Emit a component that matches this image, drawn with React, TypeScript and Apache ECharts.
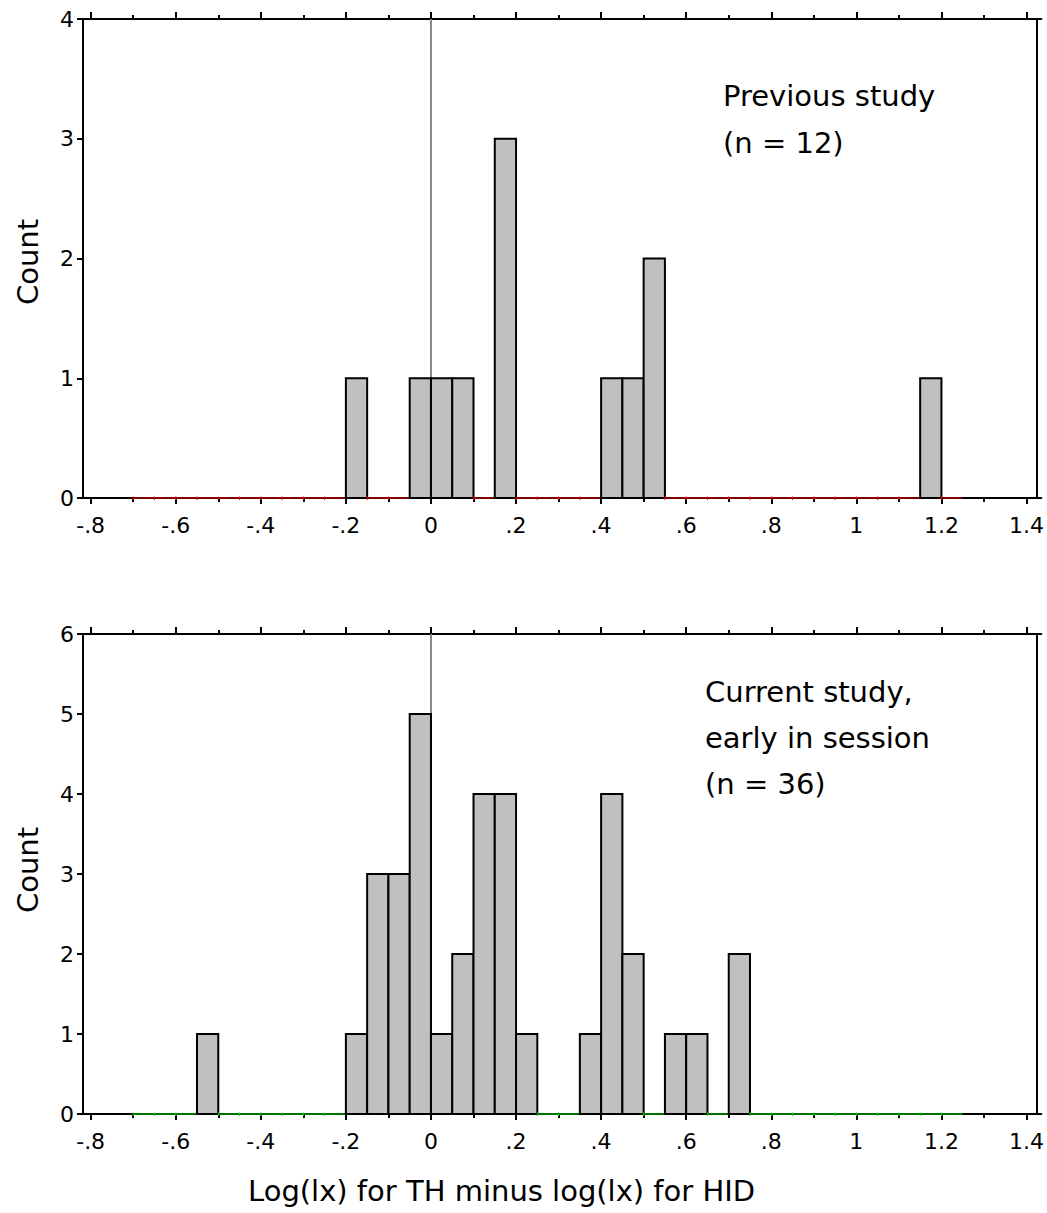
import React, { useEffect, useRef } from "react";
import * as echarts from "echarts";

// Histogram bin left edges (bin width 0.05)
const binStarts = [
  -0.7, -0.65, -0.6, -0.55, -0.5, -0.45, -0.4, -0.35, -0.3, -0.25,
  -0.2, -0.15, -0.1, -0.05, 0.0, 0.05, 0.1, 0.15, 0.2, 0.25,
  0.3, 0.35, 0.4, 0.45, 0.5, 0.55, 0.6, 0.65, 0.7, 0.75,
  0.8, 0.85, 0.9, 0.95, 1.0, 1.05, 1.1, 1.15, 1.2,
];
const binWidth = 0.05;

const previousCounts = [
  0, 0, 0, 0, 0, 0, 0, 0, 0, 0,
  1, 0, 0, 1, 1, 1, 0, 3, 0, 0,
  0, 0, 1, 1, 2, 0, 0, 0, 0, 0,
  0, 0, 0, 0, 0, 0, 0, 1, 0,
];
const currentCounts = [
  0, 0, 0, 1, 0, 0, 0, 0, 0, 0,
  1, 3, 3, 5, 1, 2, 4, 4, 1, 0,
  0, 1, 4, 2, 0, 1, 1, 0, 2, 0,
  0, 0, 0, 0, 0, 0, 0, 0, 0,
];

const xMajorTicks = [-0.8, -0.6, -0.4, -0.2, 0, 0.2, 0.4, 0.6, 0.8, 1.0, 1.2, 1.4];
const xMajorLabels = ["-.8", "-.6", "-.4", "-.2", "0", ".2", ".4", ".6", ".8", "1", "1.2", "1.4"];
const xMinorTicks = [-0.7, -0.5, -0.3, -0.1, 0.1, 0.3, 0.5, 0.7, 0.9, 1.1, 1.3];
const yMaxTop = 4;
const yMaxBottom = 6;

const topTitle = ["Previous study", "(n = 12)"];
const bottomTitle = ["Current study,", "early in session", "(n = 36)"];
const xAxisTitle = "Log(lx) for TH minus log(lx) for HID";
const yAxisTitle = "Count";

const FONT = "DejaVu Sans";
const X_MIN = -0.818;
const X_MAX = 1.435;

function labelFor(v: number): string {
  const i = xMajorTicks.findIndex((t) => Math.abs(t - v) < 1e-6);
  return i >= 0 ? xMajorLabels[i] : "";
}

function xAxesFor(gridIndex: number) {
  const base = {
    gridIndex,
    type: "value",
    min: X_MIN,
    max: X_MAX,
    splitLine: { show: false },
  };
  return [
    {
      ...base,
      position: "bottom",
      axisLine: { show: true, onZero: false, lineStyle: { color: "#000", width: 2 } },
      axisTick: { show: true, inside: false, length: 6, customValues: xMajorTicks, lineStyle: { color: "#000", width: 2 } },
      axisLabel: {
        show: true,
        customValues: xMajorTicks,
        formatter: (v: number) => labelFor(v),
        color: "#000",
        fontFamily: FONT,
        fontSize: 22,
        margin: 16,
      },
    },
    {
      ...base,
      position: "bottom",
      axisLine: { show: false, onZero: false },
      axisTick: { show: true, inside: false, length: 4, customValues: xMinorTicks, lineStyle: { color: "#000", width: 2 } },
      axisLabel: { show: false },
    },
    {
      ...base,
      position: "top",
      axisLine: { show: true, onZero: false, lineStyle: { color: "#000", width: 2 } },
      axisTick: { show: true, inside: false, length: 7, customValues: xMajorTicks, lineStyle: { color: "#000", width: 2 } },
      axisLabel: { show: false },
    },
    {
      ...base,
      position: "top",
      axisLine: { show: false, onZero: false },
      axisTick: { show: true, inside: false, length: 4, customValues: xMinorTicks, lineStyle: { color: "#000", width: 2 } },
      axisLabel: { show: false },
    },
  ];
}

function yAxisFor(gridIndex: number, max: number) {
  return {
    gridIndex,
    type: "value",
    min: 0,
    max,
    interval: 1,
    position: "left",
    splitLine: { show: false },
    axisLine: { show: true, onZero: false, lineStyle: { color: "#000", width: 2 } },
    axisTick: { show: true, inside: false, length: 6, lineStyle: { color: "#000", width: 2 } },
    axisLabel: { color: "#000", fontFamily: FONT, fontSize: 22, margin: 9 },
  };
}

function histSeries(gridIdx: number, counts: number[], zeroColor: string, yMax: number) {
  const xAxisIndex = gridIdx * 4;
  const yAxisIndex = gridIdx;
  return [
    {
      type: "line",
      xAxisIndex,
      yAxisIndex,
      data: [
        [0, 0],
        [0, yMax],
      ],
      symbol: "none",
      lineStyle: { color: "#888", width: 2 },
      z: 1,
      silent: true,
    },
    {
      type: "custom",
      xAxisIndex,
      yAxisIndex,
      z: 3,
      data: binStarts.map((s, i) => [s, s + binWidth, counts[i]]),
      encode: { x: [0, 1], y: 2 },
      renderItem: (params: any, api: any) => {
        const x0 = api.value(0);
        const x1 = api.value(1);
        const c = api.value(2);
        const p0 = api.coord([x0, c]);
        const p1 = api.coord([x1, 0]);
        if (c > 0) {
          return {
            type: "rect",
            shape: { x: p0[0], y: p0[1], width: p1[0] - p0[0], height: p1[1] - p0[1] },
            style: { fill: "#c0c0c0", stroke: "#000", lineWidth: 2 },
          };
        }
        return {
          type: "group",
          children: [
            {
              type: "line",
              shape: { x1: p0[0], y1: p1[1], x2: p1[0], y2: p1[1] },
              style: { stroke: zeroColor, lineWidth: 1 },
            },
            {
              type: "line",
              shape: { x1: p0[0], y1: p1[1] - 1.5, x2: p0[0], y2: p1[1] + 2 },
              style: { stroke: zeroColor, lineWidth: 1 },
            },
          ],
        };
      },
    },
  ];
}

export default function App() {
  const ref = useRef<HTMLDivElement | null>(null);

  useEffect(() => {
    document.body.style.margin = "0";
    if (!ref.current) return;
    const chart = echarts.init(ref.current, null, { renderer: "svg" });

    const textStyle = (size: number) => ({ fontFamily: FONT, fontSize: size, fill: "#000" });

    const option: any = {
      animation: false,
      backgroundColor: "#fff",
      grid: [
        { left: 83, top: 19, width: 962, height: 479 },
        { left: 83, top: 634, width: 962, height: 480 },
      ],
      xAxis: [...xAxesFor(0), ...xAxesFor(1)],
      yAxis: [yAxisFor(0, yMaxTop), yAxisFor(1, yMaxBottom)],
      series: [
        ...histSeries(0, previousCounts, "#ff0000", yMaxTop),
        ...histSeries(1, currentCounts, "#00e000", yMaxBottom),
      ],
      graphic: [
        // right frame borders
        { type: "line", shape: { x1: 1037, y1: 19, x2: 1037, y2: 498 }, style: { stroke: "#000", lineWidth: 2 } },
        { type: "line", shape: { x1: 1037, y1: 634, x2: 1037, y2: 1114 }, style: { stroke: "#000", lineWidth: 2 } },
        // y axis titles
        {
          type: "text",
          x: 28,
          y: 262,
          rotation: Math.PI / 2,
          style: { ...textStyle(29), text: yAxisTitle, align: "center", verticalAlign: "middle" },
        },
        {
          type: "text",
          x: 28,
          y: 870,
          rotation: Math.PI / 2,
          style: { ...textStyle(29), text: yAxisTitle, align: "center", verticalAlign: "middle" },
        },
        // x axis title
        {
          type: "text",
          x: 248,
          y: 1191,
          style: { ...textStyle(29), text: xAxisTitle, align: "left", verticalAlign: "middle" },
        },
        // annotations
        ...topTitle.map((t, i) => ({
          type: "text",
          x: 723,
          y: 96 + i * 46.5,
          style: { ...textStyle(29), text: t, align: "left", verticalAlign: "middle" },
        })),
        ...bottomTitle.map((t, i) => ({
          type: "text",
          x: 705,
          y: 692 + i * 46,
          style: { ...textStyle(29), text: t, align: "left", verticalAlign: "middle" },
        })),
      ],
    };

    chart.setOption(option);
    return () => {
      chart.dispose();
    };
  }, []);

  return <div ref={ref} style={{ width: 1047, height: 1213 }} />;
}
